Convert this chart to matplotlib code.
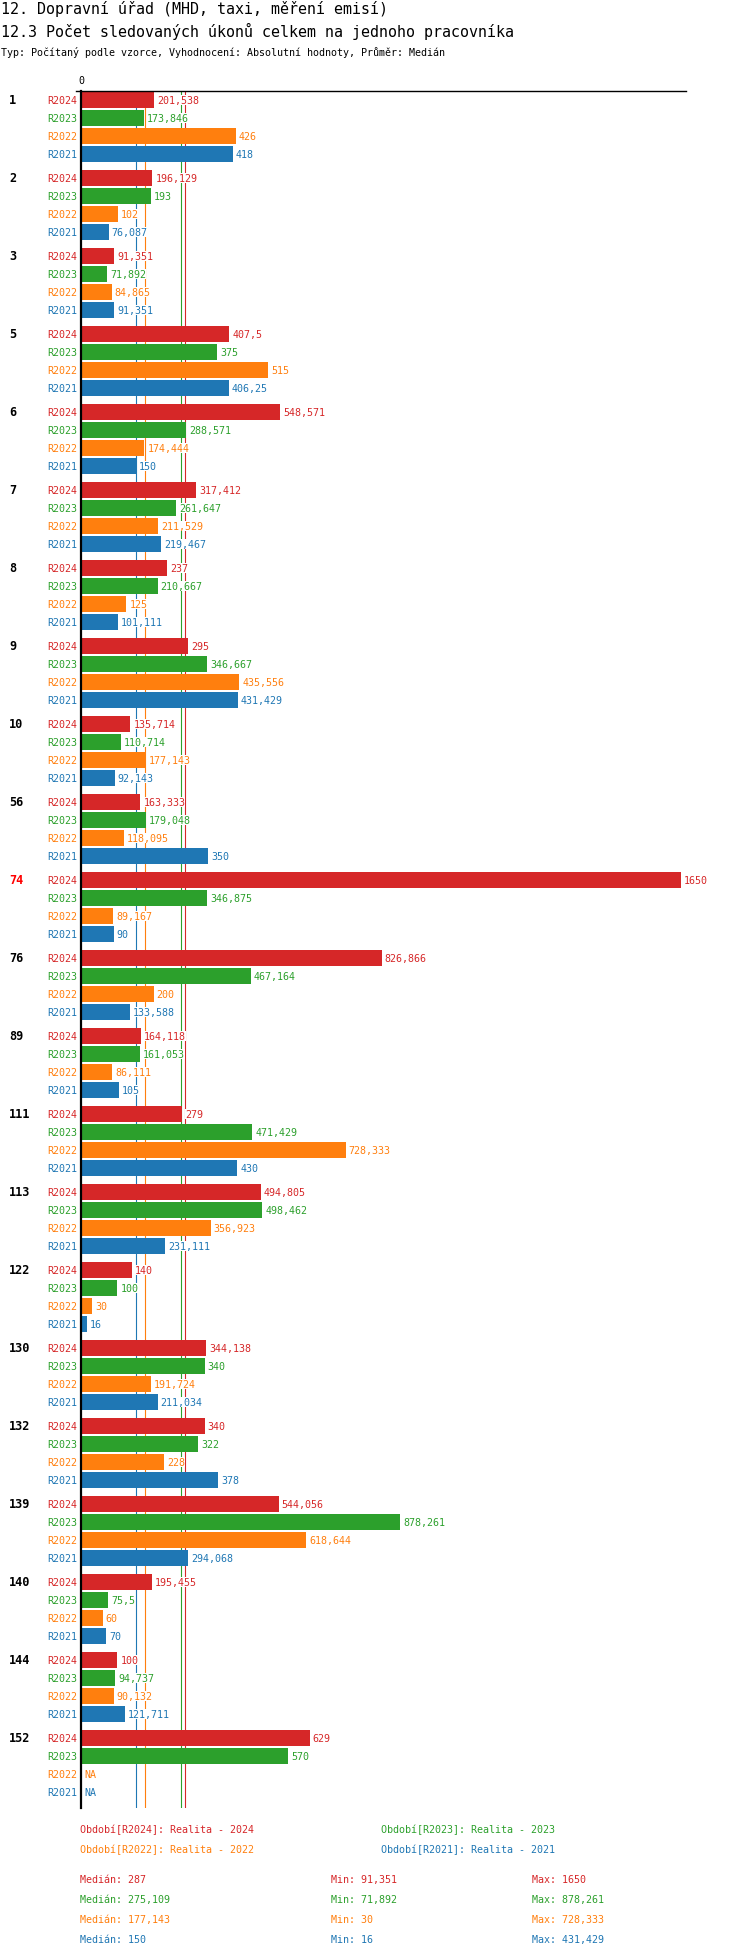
import matplotlib
import numpy as np
import matplotlib.pyplot as plt

matplotlib.use('Agg')

plt.rcParams['font.family'] = ['DejaVu Sans Mono']

W, H = 750, 1958

groups = ['1', '2', '3', '5', '6', '7', '8', '9', '10', '56', '74', '76', '89',
          '111', '113', '122', '130', '132', '139', '140', '144', '152']
highlight = '74'

r2024 = [201.538, 196.129, 91.351, 407.5, 548.571, 317.412, 237, 295, 135.714,
         163.333, 1650, 826.866, 164.118, 279, 494.805, 140, 344.138, 340,
         544.056, 195.455, 100, 629]
r2023 = [173.846, 193, 71.892, 375, 288.571, 261.647, 210.667, 346.667, 110.714,
         179.048, 346.875, 467.164, 161.053, 471.429, 498.462, 100, 340, 322,
         878.261, 75.5, 94.737, 570]
r2022 = [426, 102, 84.865, 515, 174.444, 211.529, 125, 435.556, 177.143,
         118.095, 89.167, 200, 86.111, 728.333, 356.923, 30, 191.724, 228,
         618.644, 60, 90.132, np.nan]
r2021 = [418, 76.087, 91.351, 406.25, 150, 219.467, 101.111, 431.429, 92.143,
         350, 90, 133.588, 105, 430, 231.111, 16, 211.034, 378,
         294.068, 70, 121.711, np.nan]

series_names = ['R2024', 'R2023', 'R2022', 'R2021']
series_titles = ['Realita - 2024', 'Realita - 2023', 'Realita - 2022', 'Realita - 2021']
series_values = [r2024, r2023, r2022, r2021]
colors = ['#d62728', '#2ca02c', '#ff7f0e', '#1f77b4']


def fmt(v):
    s = f"{v:.3f}".rstrip('0').rstrip('.')
    return s.replace('.', ',')


def px(x, y):
    return x / W, 1 - y / H


fig = plt.figure(figsize=(W / 100, H / 100), dpi=100)

# titles
fig.text(*px(1, 9), '12. Dopravní úřad (MHD, taxi, měření emisí)', fontsize=10.8,
         va='center', ha='left')
fig.text(*px(1, 31), '12.3 Počet sledovaných úkonů celkem na jednoho pracovníka',
         fontsize=10.8, va='center', ha='left')
fig.text(*px(1, 52), 'Typ: Počítaný podle vzorce, Vyhodnocení: Absolutní hodnoty, Průměr: Medián',
         fontsize=7.2, va='center', ha='left')

# axes box in pixels
ax_left, ax_right, ax_top, ax_bottom = 81, 686, 92, 1809
ax = fig.add_axes([ax_left / W, 1 - ax_bottom / H, (ax_right - ax_left) / W,
                   (ax_bottom - ax_top) / H])

group_pitch = 78
bar_pitch = 18
bar_h = 15.7
first_top = 93

ax.set_xlim(0, 1664)
ax.set_ylim(ax_bottom - first_top, ax_top - first_top)

for i, (name, vals, col) in enumerate(zip(series_names, series_values, colors)):
    vals = np.array(vals, dtype=float)
    ys = np.arange(len(groups)) * group_pitch + i * bar_pitch + bar_h / 2
    ax.barh(ys, np.nan_to_num(vals), height=bar_h, color=col, zorder=2, left=0)
    ax.axvline(np.nanmedian(vals), color=col, lw=0.8, zorder=1)
    for y, v in zip(ys, vals):
        label = 'NA' if np.isnan(v) else fmt(v)
        x = 0 if np.isnan(v) else v
        ax.annotate(label, xy=(x, y), xytext=(3, 0), textcoords='offset pixels',
                    ha='left', va='center', fontsize=7.2, color=col, zorder=3,
                    bbox=dict(boxstyle='square,pad=0', fc='white', ec='none'))
        ax.annotate(name, xy=(0, y), xytext=(-4, 0), textcoords='offset pixels',
                    ha='right', va='center', fontsize=7.2, color=col,
                    annotation_clip=False)

for g, name in enumerate(groups):
    y = g * group_pitch + bar_h / 2
    col = '#ff0000' if name == highlight else 'black'
    ax.annotate(name, xy=(0, y), xycoords=('figure pixels', 'data'),
                xytext=(9, 0), textcoords='offset pixels', ha='left', va='center',
                fontsize=8.6, fontweight='bold', color=col, annotation_clip=False)

for side in ['right', 'bottom', 'top']:
    ax.spines[side].set_visible(False)
ax.spines['left'].set_linewidth(1.6)
ax.spines['left'].set_zorder(4)
ax.axhline(ax_top - first_top, xmin=-5 / (ax_right - ax_left), xmax=1, color='black',
           lw=1.0, clip_on=False, zorder=4)

ax.xaxis.tick_top()
ax.set_xticks([0])
ax.set_xticklabels(['0'])
ax.tick_params(axis='x', length=0, pad=4, labelsize=7.2)
ax.set_yticks([])

# legend
leg_pos = [(80, 1830), (381, 1830), (80, 1850), (381, 1850)]
for (x, y), name, title, col in zip(leg_pos, series_names, series_titles, colors):
    fig.text(*px(x, y), f'Období[{name}]: {title}', fontsize=7.2, color=col,
             va='center', ha='left')

# statistics
for i, (vals, col) in enumerate(zip(series_values, colors)):
    vals = np.array(vals, dtype=float)
    y = 1880 + i * 20
    fig.text(*px(80, y), f'Medián: {fmt(np.nanmedian(vals))}', fontsize=7.2,
             color=col, va='center', ha='left')
    fig.text(*px(331, y), f'Min: {fmt(np.nanmin(vals))}', fontsize=7.2,
             color=col, va='center', ha='left')
    fig.text(*px(532, y), f'Max: {fmt(np.nanmax(vals))}', fontsize=7.2,
             color=col, va='center', ha='left')

fig.savefig('out.png', dpi=100)
